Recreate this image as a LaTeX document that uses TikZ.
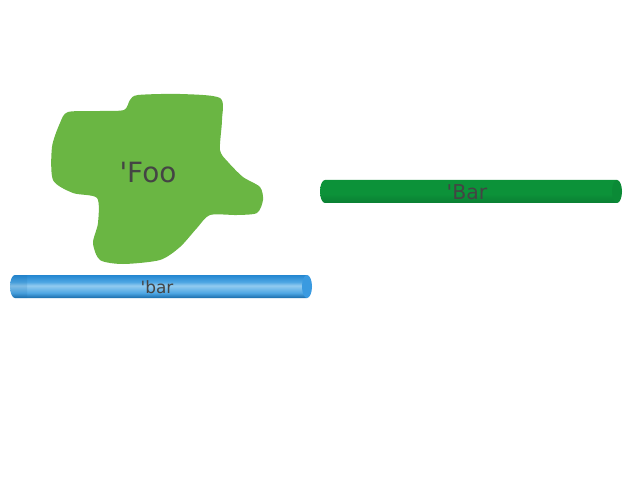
\documentclass[tikz,border=0pt]{standalone}
\usepackage{fontspec}
\setmainfont{DejaVu Sans}[Ligatures=TeXOff]
\definecolor{blobgreen}{HTML}{6AB643}
\definecolor{txtgray}{HTML}{444444}
\definecolor{btop}{HTML}{2386D0}
\definecolor{blight}{HTML}{92CBF0}
\definecolor{bmid}{HTML}{4EA6E3}
\definecolor{bbot}{HTML}{176BAA}
\definecolor{bcap}{HTML}{3A9AE0}
\definecolor{gtop}{HTML}{0C9239}
\definecolor{gbot}{HTML}{0A7F33}
\definecolor{gcap}{HTML}{0B8A36}
\pgfdeclareverticalshading{bluebar}{100bp}{color(0bp)=(bbot); color(25bp)=(bbot); color(36bp)=(bmid); color(52bp)=(blight); color(60bp)=(bmid); color(75bp)=(btop); color(100bp)=(btop)}
\pgfdeclareverticalshading{greenbar}{100bp}{color(0bp)=(gbot); color(25bp)=(gbot); color(45bp)=(gtop); color(75bp)=(gtop); color(100bp)=(gtop)}
\tikzset{
  lbl/.style={text=txtgray, inner sep=0pt},
}
\begin{document}
\begin{tikzpicture}[x=1bp,y=-1bp]
\useasboundingbox (0,0) rectangle (640,480);
% blob
\fill[blobgreen] plot[smooth cycle, tension=0.45] coordinates {
 (138,95) (180,94) (220,98) (222,120) (220,150) (228,162) (243,177) (260,187)
 (263,200) (257,213) (237,215) (210,215) (197,228) (180,247) (160,260)
 (123,264) (100,260) (93,243) (98,223) (97,198) (73,193) (53,180)
 (52,147) (60,123) (68,112) (100,111) (124,110) (130,100)};
\node[lbl, font=\fontsize{28}{30}\selectfont] (foo) at (148,173) {\textquotesingle Foo};
% blue bar
\shade[shading=bluebar] (15,275) -- (307,275) -- (307,298) -- (15,298)
  .. controls (12.24,298) and (10,292.85) .. (10,286.5)
  .. controls (10,280.15) and (12.24,275) .. (15,275) -- cycle;
\fill[bbot, opacity=0.15] (27,275) -- (15,275)
  .. controls (12.24,275) and (10,280.15) .. (10,286.5)
  .. controls (10,292.85) and (12.24,298) .. (15,298) -- (27,298) -- cycle;
\fill[bcap] (307,286.5) ellipse[x radius=5, y radius=11.5];
\node[lbl, font=\fontsize{17}{19}\selectfont] (bar) at (157,287) {\textquotesingle bar};
% green bar
\shade[shading=greenbar] (325,180) -- (617,180) -- (617,203) -- (325,203)
  .. controls (322.24,203) and (320,197.85) .. (320,191.5)
  .. controls (320,185.15) and (322.24,180) .. (325,180) -- cycle;
\fill[gcap] (617,191.5) ellipse[x radius=5, y radius=11.5];
\node[lbl, font=\fontsize{20.5}{22}\selectfont] (Bar) at (467,192) {\textquotesingle Bar};
\end{tikzpicture}
\end{document}
